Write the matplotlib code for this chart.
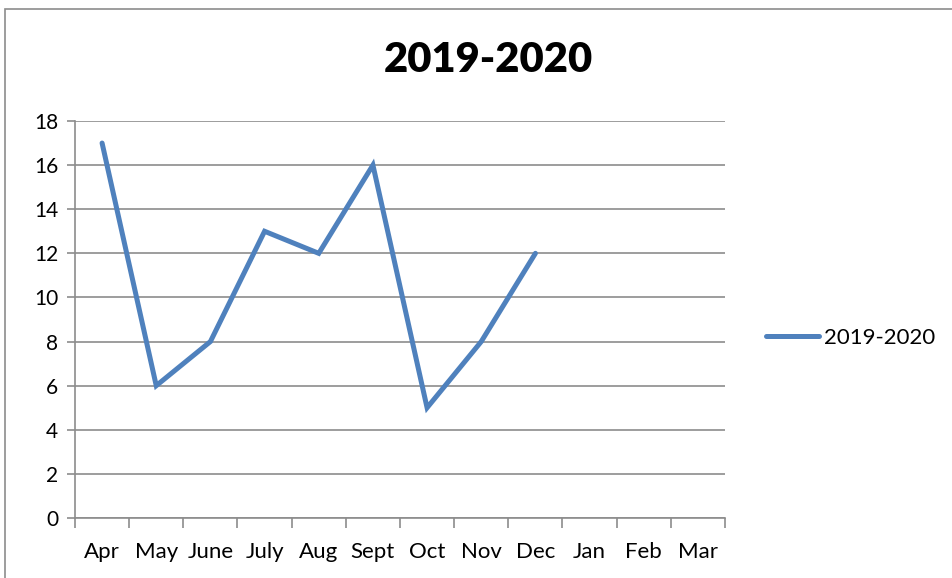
import numpy as np
import matplotlib
matplotlib.use("Agg")
import matplotlib.pyplot as plt
from matplotlib.patches import Rectangle

months = ["Apr", "May", "June", "July", "Aug", "Sept", "Oct", "Nov", "Dec", "Jan", "Feb", "Mar"]
values = [17, 6, 8, 13, 12, 16, 5, 8, 12, np.nan, np.nan, np.nan]
series_name = "2019-2020"
yticks = [0, 2, 4, 6, 8, 10, 12, 14, 16, 18]

plt.rcParams['font.family'] = ['Lato', 'DejaVu Sans']

W, H = 953, 578
fig = plt.figure(figsize=(W/100, H/100), dpi=100)
fig.patches.append(Rectangle((5/W, -0.1), 1.2, 1.1 - 9/H, transform=fig.transFigure,
                             fill=False, edgecolor='#8c8c8c', linewidth=1.2))

ax = fig.add_axes([75/W, (H-518)/H, 650/W, 397/H])
x = np.arange(len(months))
ax.plot(x, values, color='#4F81BD', linewidth=3.6, solid_capstyle='round',
        solid_joinstyle='miter', label=series_name)

ax.set_xlim(-0.5, len(months) - 0.5)
ax.set_ylim(0, 18)
ax.set_yticks(yticks)
ax.set_xticks(x)
ax.set_xticklabels(months)
ax.set_xticks(np.arange(-0.5, len(months) + 0.5, 1), minor=True)
ax.tick_params(axis='x', which='major', length=0, pad=17, labelsize=16)
ax.tick_params(axis='x', which='minor', length=7, width=1.2, color='#8c8c8c', direction='out')
ax.tick_params(axis='y', length=6, width=1.2, color='#8c8c8c', direction='out', labelsize=15, pad=6)
ax.grid(axis='y', color='#8c8c8c', linewidth=1.2)
ax.set_axisbelow(True)
for s in ['top', 'right']:
    ax.spines[s].set_visible(False)
for s in ['left', 'bottom']:
    ax.spines[s].set_color('#8c8c8c')
    ax.spines[s].set_linewidth(1.2)

fig.text(488/W, 1 - 60/H, series_name, ha='center', va='center',
         fontsize=30, fontweight='heavy')

leg = fig.legend(loc='center left', bbox_to_anchor=(755/W, 1 - 338/H), frameon=False,
                 fontsize=16, handlelength=2.4, handletextpad=0.2, borderpad=0)

fig.savefig("out.png", dpi=100)
